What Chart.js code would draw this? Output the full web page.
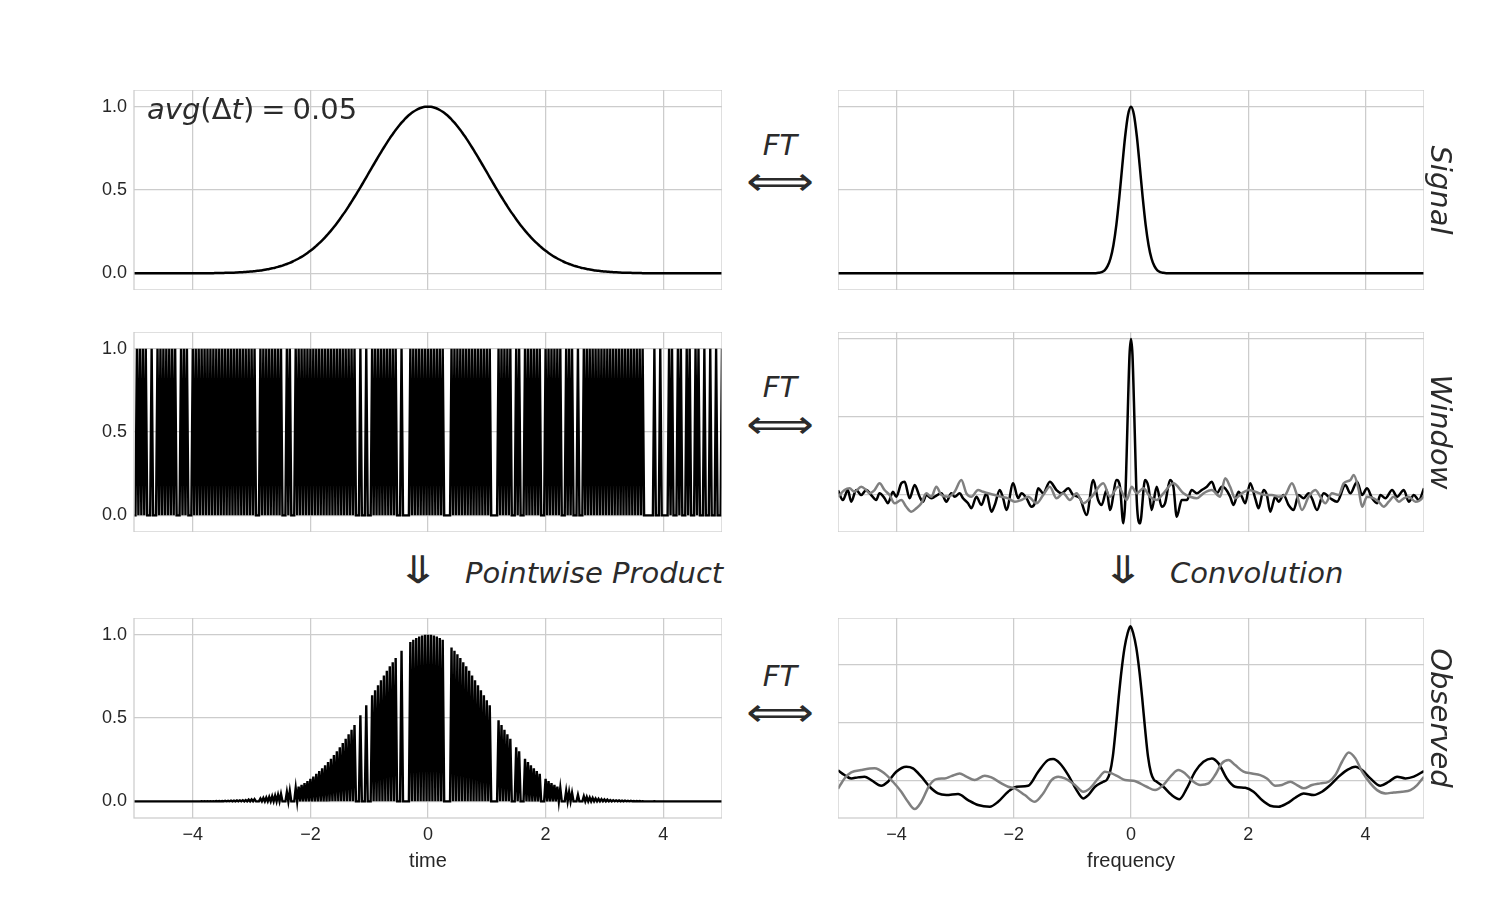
<!DOCTYPE html>
<html><head><meta charset="utf-8">
<script src="https://cdn.jsdelivr.net/npm/chart.js@4.4.0/dist/chart.umd.min.js"></script>
<style>
html,body{margin:0;padding:0;background:#fff;}
body{width:1500px;height:900px;position:relative;overflow:hidden;}
canvas{position:absolute;}
.t{position:absolute;font-family:"DejaVu Sans";font-style:italic;color:#2b2b2b;white-space:nowrap;line-height:1;}
.m{position:absolute;font-family:"DejaVu Sans";color:#2b2b2b;white-space:nowrap;line-height:1;}
</style></head><body>
<script>
// ---------------- DATA ----------------
const timeTicks = [-4, -2, 0, 2, 4];
const freqTicks = [-4, -2, 0, 2, 4];
const yTicks = [0, 0.5, 1.0];

// Signal on a time grid from -5 to 5 every 0.05
const signalStep = 0.05;
const signalValues = [
0,0,0,0,0,0,0,0,0,0,0,0,0,0,0,0,0,0,0,0,0,0,0,
0.001,0.001,0.001,0.001,0.001,0.002,0.002,0.002,0.003,0.003,0.004,0.004,0.005,0.006,0.007,0.008,0.010,0.011,0.013,0.015,0.017,0.020,0.023,0.026,0.030,0.034,0.039,0.044,0.050,0.056,0.063,0.071,0.080,0.089,0.099,0.110,0.122,0.135,0.149,0.165,0.181,0.198,0.216,0.236,0.256,0.278,0.301,0.325,0.350,0.375,0.402,0.430,0.458,0.487,0.516,0.546,0.576,0.607,0.637,0.667,0.697,0.726,0.755,0.783,0.810,0.835,0.860,0.882,0.904,0.923,0.941,0.956,0.969,0.980,0.989,0.995,0.999,
1.000,
0.999,0.995,0.989,0.980,0.969,0.956,0.941,0.923,0.904,0.882,0.860,0.835,0.810,0.783,0.755,0.726,0.697,0.667,0.637,0.607,0.576,0.546,0.516,0.487,0.458,0.430,0.402,0.375,0.350,0.325,0.301,0.278,0.256,0.236,0.216,0.198,0.181,0.165,0.149,0.135,0.122,0.110,0.099,0.089,0.080,0.071,0.063,0.056,0.050,0.044,0.039,0.034,0.030,0.026,0.023,0.020,0.017,0.015,0.013,0.011,0.010,0.008,0.007,0.006,0.005,0.004,0.004,0.003,0.003,0.002,0.002,0.002,0.001,0.001,0.001,0.001,0.001,
0,0,0,0,0,0,0,0,0,0,0,0,0,0,0,0,0,0,0,0,0,0,0
];

// Observation times (window = 1 at these times)
const sampleTimes = [
-4.95,-4.90,-4.85,-4.80,-4.70,-4.60,-4.55,-4.50,-4.45,-4.40,-4.35,-4.30,-4.20,-4.15,-4.10,
-4.00,-3.95,-3.90,-3.85,-3.80,-3.75,-3.70,-3.65,-3.60,-3.55,-3.50,-3.45,-3.40,-3.35,-3.30,-3.25,-3.20,-3.15,-3.10,-3.05,-3.00,-2.95,
-2.85,-2.80,-2.75,-2.70,-2.65,-2.60,-2.55,-2.50,-2.40,-2.35,
-2.25,-2.20,-2.15,-2.10,-2.05,-2.00,-1.95,-1.90,-1.85,-1.80,-1.75,-1.70,-1.65,-1.60,-1.55,-1.50,-1.45,-1.40,-1.35,-1.30,-1.25,
-1.15,-1.05,-0.95,-0.90,-0.85,-0.80,-0.75,-0.70,-0.65,-0.60,-0.55,-0.45,
-0.30,-0.25,-0.20,-0.15,-0.10,-0.05,0.00,0.05,0.10,0.15,0.20,0.25,
0.40,0.45,0.50,0.55,0.60,0.65,0.70,0.75,0.80,0.85,0.90,0.95,1.00,1.05,
1.20,1.25,1.30,1.35,1.40,1.50,1.55,1.65,1.70,1.75,1.80,1.85,1.90,
2.00,2.05,2.10,2.15,2.20,2.25,2.35,2.40,2.45,2.55,
2.65,2.70,2.75,2.80,2.85,2.90,2.95,3.00,3.05,3.10,3.15,3.20,3.25,3.30,3.35,3.40,3.45,3.50,3.55,3.60,3.65,
3.85,3.95,4.10,4.15,4.25,4.30,4.40,4.45,4.55,4.60,4.70,4.80,4.90,5.00
];

// Fourier transform of the signal [frequency, value]
const signalFT = [
[-5,0],[-0.6,0.001],[-0.55,0.003],[-0.5,0.007],[-0.45,0.018],[-0.4,0.043],[-0.35,0.089],[-0.3,0.169],[-0.25,0.291],[-0.2,0.454],[-0.15,0.641],[-0.1,0.821],[-0.05,0.952],
[0,1.0],[0.05,0.952],[0.1,0.821],[0.15,0.641],[0.2,0.454],[0.25,0.291],[0.3,0.169],[0.35,0.089],[0.4,0.043],[0.45,0.018],[0.5,0.007],[0.55,0.003],[0.6,0.001],[5,0]
];

// Fourier transform of the window: real part (black) and imaginary part (gray)
const windowFTReal = [
[-5.00,0.03],[-4.917,-0.032],[-4.832,0.032],[-4.775,-0.043],[-4.689,0.032],[-4.604,0.0],[-4.518,0.032],[-4.433,0.0],[-4.348,-0.032],[-4.291,0.011],[-4.205,-0.021],[-4.148,-0.053],[-4.063,0.021],[-4.006,-0.011],[-3.920,0.075],[-3.863,0.085],[-3.778,-0.021],[-3.692,0.064],[-3.607,-0.011],[-3.550,-0.043],[-3.493,0.0],[-3.407,-0.021],[-3.350,-0.011],[-3.236,0.011],[-3.151,-0.043],[-3.066,0.011],[-3.009,-0.011],[-2.923,0.011],[-2.866,-0.021],[-2.781,-0.053],[-2.724,-0.085],[-2.638,-0.011],[-2.553,-0.064],[-2.467,0.011],[-2.382,-0.107],[-2.325,-0.064],[-2.239,0.032],[-2.182,-0.021],[-2.125,-0.096],[-2.011,0.075],[-1.926,-0.021],[-1.869,0.011],[-1.783,-0.021],[-1.698,-0.075],
[-1.641,-0.053],[-1.584,0.043],[-1.498,0.011],[-1.385,0.085],[-1.271,0.032],[-1.185,0.011],[-1.071,0.043],[-0.986,0.0],[-0.872,-0.021],[-0.758,-0.128],[-0.644,0.096],[-0.561,-0.032],[-0.501,-0.064],[-0.416,0.032],[-0.359,-0.096],[-0.245,0.096],[-0.188,0.053],[-0.131,-0.181],
[-0.1,-0.05],[-0.075,0.25],[-0.05,0.6],[-0.025,0.9],[0,1.0],[0.025,0.9],[0.05,0.6],[0.075,0.25],[0.1,-0.05],
[0.154,-0.181],[0.240,0.096],[0.297,0.053],[0.353,-0.096],[0.439,0.053],[0.524,-0.075],[0.581,-0.053],[0.667,0.096],[0.724,0.053],[0.781,-0.139],[0.866,-0.032],[0.952,-0.032],[1.037,0.032],[1.123,0.011],[1.208,0.032],[1.294,0.053],[1.379,0.085],[1.464,0.011],[1.550,0.053],
[1.607,0.043],[1.692,-0.011],[1.749,-0.064],[1.835,0.021],[1.892,-0.011],[1.949,-0.053],[2.034,0.075],[2.120,-0.021],[2.177,-0.085],[2.262,0.032],[2.319,0.0],[2.376,-0.107],[2.462,-0.011],[2.519,-0.043],[2.604,0.0],[2.689,-0.064],[2.775,-0.096],[2.860,0.0],[2.946,-0.021],[3.031,0.011],[3.088,-0.021],[3.174,-0.096],[3.288,0.011],[3.402,-0.021],[3.516,-0.043],[3.658,0.064],[3.744,0.011],[3.858,0.085],[3.943,0.0],[4.028,0.043],[4.114,-0.021],[4.199,-0.053],[4.256,0.0],[4.342,-0.021],[4.456,0.032],[4.541,-0.011],[4.655,0.032],[4.741,-0.043],[4.826,0.0],[4.912,-0.032],[5.0,0.043]
];
const windowFTImag = [
[-5.0,-0.011],[-4.889,0.032],[-4.803,0.043],[-4.718,0.021],[-4.604,0.053],[-4.518,0.032],[-4.462,0.011],[-4.376,0.032],[-4.291,0.075],[-4.205,0.032],[-4.120,0.0],[-4.034,-0.053],[-3.920,-0.032],[-3.835,-0.075],[-3.749,-0.107],[-3.664,-0.085],[-3.578,-0.053],[-3.493,0.011],[-3.407,-0.011],[-3.322,0.053],[-3.236,0.0],[-3.123,-0.011],[-3.009,0.021],[-2.895,0.096],[-2.809,0.011],[-2.724,-0.011],[-2.610,0.032],[-2.524,0.021],[-2.439,0.011],[-2.325,0.0],[-2.211,-0.011],[-2.097,-0.021],[-1.983,-0.043],[-1.869,-0.032],[-1.755,-0.011],
[-1.612,-0.053],[-1.498,0.0],[-1.385,0.053],[-1.271,-0.021],[-1.157,0.011],[-1.043,-0.032],[-0.929,0.011],[-0.815,-0.053],[-0.672,-0.011],[-0.473,0.075],[-0.359,-0.011],[-0.217,0.053],[-0.074,-0.032],[0.012,0.053],[0.097,0.011],[0.211,0.043],[0.325,-0.011],[0.439,-0.032],[0.553,0.011],[0.724,0.075],[0.895,0.011],[1.009,-0.011],[1.123,-0.021],[1.237,0.011],[1.379,0.032],[1.521,-0.011],
[1.607,0.107],[1.692,0.053],[1.778,-0.021],[1.892,0.011],[2.006,0.032],[2.120,0.021],[2.291,0.0],[2.405,0.0],[2.519,-0.011],[2.632,0.0],[2.746,0.075],[2.832,0.0],[2.917,-0.096],[3.031,-0.011],[3.145,0.032],[3.231,-0.011],[3.316,-0.053],[3.430,0.011],[3.544,0.0],[3.630,0.075],[3.744,0.096],[3.801,0.128],[3.886,0.032],[3.943,-0.075],[4.028,-0.011],[4.142,-0.021],[4.228,-0.043],[4.313,-0.075],[4.399,-0.043],[4.484,-0.011],[4.570,-0.043],[4.655,-0.021],[4.741,-0.011],[4.855,-0.043],[4.969,-0.021],[5.0,0.0]
];

// Fourier transform of the observed signal: real (black) and imaginary (gray)
const observedFTReal = [
[-5.0,0.09],[-4.889,0.049],[-4.775,0.020],[-4.661,0.029],[-4.547,0.035],[-4.433,0.006],[-4.262,-0.043],[-4.148,-0.009],[-4.006,0.078],[-3.835,0.121],[-3.721,0.107],[-3.578,0.035],[-3.436,-0.052],[-3.293,-0.110],[-3.151,-0.124],[-2.952,-0.115],[-2.781,-0.167],[-2.610,-0.210],[-2.410,-0.225],[-2.268,-0.182],[-2.097,-0.095],[-1.954,-0.052],[-1.755,-0.043],[-1.584,0.078],[-1.413,0.179],[-1.328,0.187],[-1.214,0.150],[-1.071,0.049],[-0.929,-0.081],[-0.815,-0.153],[-0.729,-0.124],[-0.615,-0.052],[-0.473,-0.009],[-0.41,0.01],
[-0.36,0.07],[-0.31,0.21],[-0.26,0.45],[-0.21,0.72],[-0.16,0.96],[-0.11,1.15],[-0.06,1.27],[-0.01,1.335],[0.04,1.27],[0.09,1.15],[0.14,0.96],[0.19,0.72],[0.24,0.45],[0.29,0.21],[0.34,0.07],[0.39,0.01],
[0.439,-0.009],[0.553,-0.052],[0.695,-0.124],[0.826,-0.159],[0.952,-0.066],[1.094,0.078],[1.236,0.164],[1.379,0.193],[1.493,0.150],[1.635,0.020],[1.778,-0.052],[1.949,-0.061],[2.091,-0.095],[2.234,-0.167],[2.376,-0.216],[2.518,-0.225],[2.661,-0.196],[2.803,-0.147],[2.946,-0.110],[3.117,-0.124],[3.259,-0.095],[3.402,-0.037],[3.544,0.035],[3.687,0.092],[3.829,0.121],[3.943,0.092],[4.085,0.020],[4.256,-0.043],[4.399,-0.009],[4.541,0.035],[4.684,0.020],[4.826,0.035],[5.0,0.084]
];
const observedFTImag = [
[-5.0,-0.07],[-4.889,0.020],[-4.775,0.072],[-4.604,0.092],[-4.376,0.107],[-4.205,0.063],[-4.063,-0.009],[-3.920,-0.095],[-3.806,-0.182],[-3.692,-0.245],[-3.578,-0.182],[-3.436,-0.037],[-3.322,0.014],[-3.180,0.020],[-3.066,0.040],[-2.923,0.063],[-2.809,0.035],[-2.667,0.006],[-2.496,0.043],[-2.382,0.029],[-2.211,-0.023],[-2.097,-0.052],[-1.983,-0.066],[-1.812,-0.124],[-1.641,-0.182],[-1.499,-0.110],[-1.356,0.006],[-1.242,0.035],[-1.128,0.020],[-0.957,-0.037],[-0.815,-0.095],[-0.701,-0.066],[-0.558,0.020],[-0.444,0.078],[-0.330,0.063],[-0.216,0.035],[-0.103,0.006],[0.04,0.0],
[0.097,-0.009],[0.268,-0.052],[0.41,-0.081],[0.553,-0.037],[0.695,0.049],[0.809,0.092],[0.923,0.063],[1.066,-0.009],[1.18,-0.037],[1.322,-0.023],[1.436,0.049],[1.55,0.150],[1.664,0.179],[1.778,0.135],[1.92,0.078],[2.063,0.063],[2.205,0.049],[2.319,0.020],[2.462,-0.043],[2.575,-0.037],[2.718,-0.009],[2.832,-0.037],[2.946,-0.066],[3.088,-0.037],[3.231,-0.023],[3.373,-0.009],[3.487,0.049],[3.601,0.164],[3.715,0.245],[3.829,0.193],[3.943,0.078],[4.085,-0.023],[4.199,-0.081],[4.342,-0.110],[4.484,-0.101],[4.627,-0.095],[4.769,-0.081],[4.883,-0.037],[5.0,0.035]
];

// ---------------- BUILD ----------------
const INK = '#262626', GRID = '#cccccc';
const tickFont = {family: '"Liberation Sans", Arial, sans-serif', size: 18};
const minus = v => String(v).replace('-', '\u2212');

const frame = {id: 'frame', afterDraw(ch) {
  const a = ch.chartArea, ctx = ch.ctx;
  ctx.save(); ctx.strokeStyle = GRID; ctx.lineWidth = 1.25;
  ctx.strokeRect(a.left, a.top, a.right - a.left, a.bottom - a.top);
  ctx.restore();
}};

const pts = arr => arr.map(p => ({x: p[0], y: p[1]}));
const signalPts = signalValues.map((v, i) => ({x: -5 + i * signalStep, y: v}));
const half = signalStep / 2;
function spikes(heightOf) {
  const out = [{x: -5, y: 0}];
  sampleTimes.forEach(t => {
    out.push({x: t - half, y: 0}, {x: t, y: heightOf(t)}, {x: t + half, y: 0});
  });
  out.push({x: 5, y: 0});
  return out;
}
const windowPts = spikes(() => 1);
const productPts = spikes(t => signalValues[Math.round((t + 5) / signalStep)]);

function panel(o) {
  const c = document.createElement('canvas');
  c.width = o.w; c.height = o.h;
  c.style.left = o.left + 'px'; c.style.top = o.top + 'px';
  document.body.appendChild(c);
  const ticks = o.xTicks;
  return new Chart(c, {
    type: 'line',
    data: {datasets: o.datasets.map(d => Object.assign({
      pointRadius: 0, borderWidth: 2.5, borderColor: '#000', fill: false,
      cubicInterpolationMode: 'monotone'
    }, d))},
    options: {
      responsive: false, animation: false, events: [],
      layout: {padding: 0},
      plugins: {legend: {display: false}, tooltip: {enabled: false}},
      scales: {
        x: {type: 'linear', min: -5, max: 5,
          afterBuildTicks: s => { s.ticks = ticks.map(v => ({value: v})); },
          afterFit: s => { s.height = o.xLabels ? 58 : 0; s.paddingLeft = 0; s.paddingRight = 0; },
          grid: {color: GRID, lineWidth: 1.25, drawTicks: false},
          border: {display: false},
          ticks: {display: !!o.xLabels, padding: 6, color: INK, font: tickFont, callback: v => minus(v)},
          title: {display: !!o.xTitle, text: o.xTitle || '', color: INK,
            font: {family: '"Liberation Sans", Arial, sans-serif', size: 20}, padding: {top: 0, bottom: 3}}
        },
        y: {type: 'linear', min: o.yMin, max: o.yMax,
          afterBuildTicks: s => { s.ticks = yTicks.map(v => ({value: v})); },
          afterFit: s => { s.width = o.yLabels ? 60 : 0; s.paddingTop = 0; s.paddingBottom = 0; },
          grid: {color: GRID, lineWidth: 1.25, drawTicks: false},
          border: {display: false},
          ticks: {display: !!o.yLabels, padding: 7, color: INK, font: tickFont, callback: v => v.toFixed(1)}
        }
      }
    },
    plugins: [frame]
  });
}

const LX = 74, LW = 648, RX = 838, RW = 586;
// Row 1
panel({left: LX, top: 90, w: LW, h: 200, xTicks: timeTicks, yLabels: true, yMin: -0.1, yMax: 1.1,
  datasets: [{data: signalPts}]});
panel({left: RX, top: 90, w: RW, h: 200, xTicks: freqTicks, yLabels: false, yMin: -0.1, yMax: 1.1,
  datasets: [{data: pts(signalFT)}]});
// Row 2
panel({left: LX, top: 332, w: LW, h: 200, xTicks: timeTicks, yLabels: true, yMin: -0.1, yMax: 1.1,
  datasets: [{data: windowPts, borderWidth: 2.4, cubicInterpolationMode: 'default', tension: 0}]});
panel({left: RX, top: 332, w: RW, h: 200, xTicks: freqTicks, yLabels: false, yMin: -0.237, yMax: 1.045,
  datasets: [{data: pts(windowFTImag), borderColor: '#808080'}, {data: pts(windowFTReal)}]});
// Row 3
panel({left: LX, top: 618, w: LW, h: 258, xTicks: timeTicks, yLabels: true, yMin: -0.1, yMax: 1.1,
  xLabels: true, xTitle: 'time',
  datasets: [{data: productPts, borderWidth: 2.4, cubicInterpolationMode: 'default', tension: 0}]});
panel({left: RX, top: 618, w: RW, h: 258, xTicks: freqTicks, yLabels: false, yMin: -0.322, yMax: 1.406,
  xLabels: true, xTitle: 'frequency',
  datasets: [{data: pts(observedFTImag), borderColor: '#808080'}, {data: pts(observedFTReal)}]});
</script>

<div class="m" style="left:147px;top:95px;font-size:29px;"><i>avg</i>(Δ<i>t</i>)<span style="margin:0 7px">=</span>0.05</div>

<div class="t" style="left:780px;top:145px;font-size:29px;transform:translate(-50%,-50%);">FT</div>
<div class="m" style="left:780px;top:181px;font-size:40px;transform:translate(-50%,-50%) scaleX(1.18);">⟺</div>
<div class="t" style="left:780px;top:387px;font-size:29px;transform:translate(-50%,-50%);">FT</div>
<div class="m" style="left:780px;top:424px;font-size:40px;transform:translate(-50%,-50%) scaleX(1.18);">⟺</div>
<div class="t" style="left:780px;top:676px;font-size:29px;transform:translate(-50%,-50%);">FT</div>
<div class="m" style="left:780px;top:712px;font-size:40px;transform:translate(-50%,-50%) scaleX(1.18);">⟺</div>

<div class="m" style="left:418px;top:570px;font-size:38px;transform:translate(-50%,-50%) scaleX(1.4);">⇓</div>
<div class="t" style="left:465px;top:573px;font-size:29px;transform:translate(0,-50%);">Pointwise Product</div>
<div class="m" style="left:1123px;top:570px;font-size:38px;transform:translate(-50%,-50%) scaleX(1.4);">⇓</div>
<div class="t" style="left:1170px;top:573px;font-size:29px;transform:translate(0,-50%);">Convolution</div>

<div class="t" style="left:1440px;top:190px;font-size:29px;transform:translate(-50%,-50%) rotate(90deg);">Signal</div>
<div class="t" style="left:1440px;top:432px;font-size:29px;transform:translate(-50%,-50%) rotate(90deg);">Window</div>
<div class="t" style="left:1440px;top:718px;font-size:29px;transform:translate(-50%,-50%) rotate(90deg);">Observed</div>
</body></html>
